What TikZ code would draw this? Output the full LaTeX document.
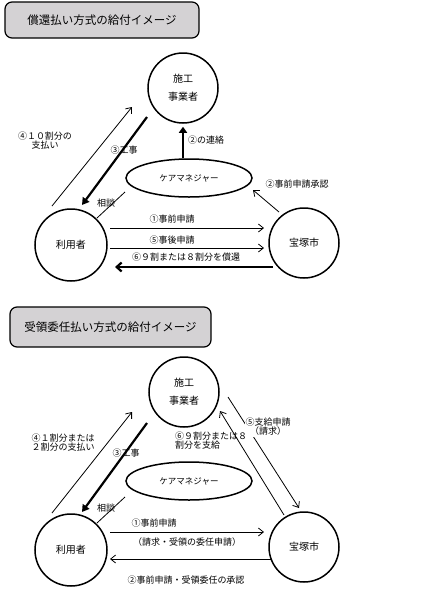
\documentclass[tikz,border=0pt]{standalone}
\usepackage{fontspec}
\newfontfamily\jp{Noto Sans CJK JP}
\usetikzlibrary{arrows.meta,shapes.geometric}
\definecolor{titlegray}{RGB}{212,210,212}

\begin{document}
\begin{tikzpicture}[x=1pt,y=-1pt,
    titlebox/.style={draw,line width=1.2pt,rounded corners=7pt,fill=titlegray,
      inner sep=0pt,font=\jp\fontsize{11.5}{12}\selectfont},
    circ/.style={circle,draw,line width=1.5pt,minimum size=70pt,inner sep=0pt,
      align=center,font=\jp\fontsize{10}{18}\selectfont},
    care/.style={ellipse,draw,line width=1.5pt,minimum width=126pt,
      minimum height=38pt,inner sep=0pt,font=\jp\fontsize{8.5}{9}\selectfont},
    lbl/.style={inner sep=0pt,align=center,font=\jp\fontsize{9}{9}\selectfont},
    thinarr/.style={line width=0.8pt,-{Straight Barb[length=5pt,width=8pt]}},
    thickarr/.style={line width=2.2pt,-{Triangle[length=7pt,width=8pt]}},
    backarr/.style={line width=2.2pt,-{Straight Barb[length=5pt,width=9pt]}},
  ]
  \useasboundingbox (0,0) rectangle (432,590);

  % --- top: 償還払い
  \node[titlebox,minimum width=194pt,minimum height=36pt] (title1) at (102,20) {償還払い方式の給付イメージ};
  \node[circ] (jigyo1) at (183,88) {施工\\事業者};
  \node[care] (care1) at (189,178) {ケアマネジャー};
  \node[circ,minimum size=72pt] (user1) at (71,245) {利用者};
  \node[circ] (city1) at (304,243) {宝塚市};

  \coordinate (pay1s) at (52,206);  \coordinate (pay1e) at (132,107);
  \coordinate (work1s) at (147,117); \coordinate (work1e) at (82,205);
  \coordinate (talk1s) at (97,218);  \coordinate (talk1e) at (125,192);
  \coordinate (ok1s) at (279,212);   \coordinate (ok1e) at (253,190);
  \coordinate (pre1s) at (110,228);  \coordinate (pre1e) at (264,228);
  \coordinate (post1s) at (110,248); \coordinate (post1e) at (264,248);
  \coordinate (back1s) at (273,267); \coordinate (back1e) at (115,267);

  \draw[thinarr] (pay1s) -- (pay1e);
  \draw[thickarr] (work1s) -- (work1e);
  \draw[line width=0.8pt] (talk1s) -- (talk1e);
  \draw[thickarr,-{Triangle[length=6pt,width=8pt]}] (care1.north -| jigyo1.south) -- ([yshift=-3pt]jigyo1.south);
  \draw[thinarr] (ok1s) -- (ok1e);
  \draw[thinarr] (pre1s) -- (pre1e);
  \draw[thinarr] (post1s) -- (post1e);
  \draw[backarr] (back1s) -- (back1e);

  \node[lbl] (pay1) at (45,141) {④１０割分の\\支払い};
  \node[lbl] (work1) at (124,150) {③工事};
  \node[lbl] (talk1) at (106,203) {相談};
  \node[lbl] (contact1) at (206,140) {②の連絡};
  \node[lbl] (ok1) at (297,184) {②事前申請承認};
  \node[lbl] (pre1) at (172,219) {①事前申請};
  \node[lbl] (post1) at (172,240) {⑤事後申請};
  \node[lbl] (back1) at (186,257) {⑥９割または８割分を償還};

  % --- bottom: 受領委任払い
  \node[titlebox,minimum width=201pt,minimum height=40pt] (title2) at (110.5,327) {受領委任払い方式の給付イメージ};
  \node[circ] (jigyo2) at (184,392) {施工\\事業者};
  \node[care] (care2) at (189,481) {ケアマネジャー};
  \node[circ,minimum size=72pt] (user2) at (71,550) {利用者};
  \node[circ] (city2) at (304,547) {宝塚市};

  \coordinate (pay2s) at (52,513);   \coordinate (pay2e) at (132,412);
  \coordinate (work2s) at (147,423); \coordinate (work2e) at (82,512);
  \coordinate (talk2s) at (97,523);  \coordinate (talk2e) at (125,497);
  \coordinate (claim2s) at (228,397); \coordinate (claim2e) at (299,508);
  \coordinate (give2s) at (284,515); \coordinate (give2e) at (220,411);
  \coordinate (pre2s) at (110,532);  \coordinate (pre2e) at (264,532);
  \coordinate (ok2s) at (272,559);   \coordinate (ok2e) at (110,559);

  \draw[thinarr] (pay2s) -- (pay2e);
  \draw[thickarr] (work2s) -- (work2e);
  \draw[line width=0.8pt] (talk2s) -- (talk2e);
  \draw[thinarr] (claim2s) -- (claim2e);
  \draw[thinarr] (give2s) -- (give2e);
  \draw[thinarr] (pre2s) -- (pre2e);
  \draw[thinarr] (ok2s) -- (ok2e);

  \node[lbl] (pay2) at (63,443) {④１割分または\\２割分の支払い};
  \node[lbl] (work2) at (126,453) {③工事};
  \node[lbl] (talk2) at (106,508) {相談};
  \node[lbl,fill=white,inner sep=1pt] (claim2) at (268,427) {⑤支給申請\\（請求）};
  \node[lbl,align=left,anchor=north west] (give2) at (175,432) {⑥９割分または８\\割分を支給};
  \node[lbl] (pre2) at (154,523) {①事前申請};
  \node[lbl] (req2) at (187,542) {（請求・受領の委任申請）};
  \node[lbl] (ok2) at (186,580) {②事前申請・受領委任の承認};
\end{tikzpicture}
\end{document}
